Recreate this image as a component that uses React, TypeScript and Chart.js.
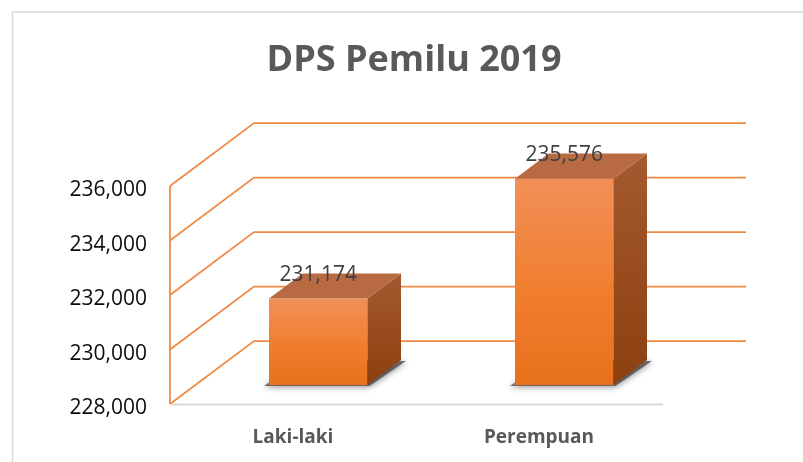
import React, { useEffect, useRef } from "react";
import { Chart, registerables } from "chart.js";

Chart.register(...registerables);

const categories: string[] = ["Laki-laki", "Perempuan"];
const values: number[] = [231174, 235576];
const yMin = 228000;
const yMax = 236000;
const yStep = 2000;
const titleText = "DPS Pemilu 2019";

const DX = 84;
const DY = -63;
const FONT = "'Open Sans', 'Liberation Sans', sans-serif";

const fmt = (v: number) => v.toLocaleString("en-US");

const threeD = {
  id: "threeD",
  beforeDraw(chart: any) {
    const ctx = chart.ctx;
    ctx.save();
    ctx.fillStyle = "#ffffff";
    ctx.fillRect(0, 0, chart.width, chart.height);
    ctx.strokeStyle = "#d9d9d9";
    ctx.lineWidth = 1.5;
    ctx.strokeRect(12.5, 12, chart.width + 20, chart.height + 20);
    // title
    ctx.fillStyle = "#595959";
    ctx.font = `bold 36px ${FONT}`;
    ctx.textAlign = "center";
    ctx.textBaseline = "alphabetic";
    ctx.fillText(titleText, 414, 71);
    ctx.restore();
  },
  beforeDatasetsDraw(chart: any) {
    const ctx = chart.ctx;
    const ys = chart.scales.y;
    const { left, right, bottom } = chart.chartArea;
    ctx.save();
    ctx.strokeStyle = "#ef8a45";
    ctx.lineWidth = 1.75;
    ys.ticks.forEach((t: any) => {
      const y = ys.getPixelForValue(t.value);
      ctx.beginPath();
      ctx.moveTo(left, y);
      ctx.lineTo(left + DX, y + DY);
      ctx.lineTo(right + DX, y + DY);
      ctx.stroke();
    });
    ctx.beginPath();
    ctx.moveTo(left, ys.getPixelForValue(yMax));
    ctx.lineTo(left, ys.getPixelForValue(yMin));
    ctx.stroke();
    // floor line
    ctx.strokeStyle = "#d9d9d9";
    ctx.lineWidth = 2;
    ctx.beginPath();
    ctx.moveTo(left + 1, bottom + 0.5);
    ctx.lineTo(right + 1, bottom + 0.5);
    ctx.stroke();
    // y tick labels
    ctx.fillStyle = "#0d0d0d";
    ctx.font = `21px ${FONT}`;
    ctx.textAlign = "right";
    ctx.textBaseline = "alphabetic";
    ys.ticks.forEach((t: any) => {
      const y = ys.getPixelForValue(t.value);
      ctx.fillText(fmt(t.value), left - 23, y + 10);
    });
    ctx.restore();
  },
  afterDatasetsDraw(chart: any) {
    const ctx = chart.ctx;
    const ys = chart.scales.y;
    const meta = chart.getDatasetMeta(0);
    const ox = DX * 0.3;
    const oy = DY * 0.3;
    const ddx = DX * 0.4;
    const ddy = DY * 0.4;
    const basePx = ys.getPixelForValue(yMin);
    meta.data.forEach((bar: any, i: number) => {
      const x0 = bar.x - bar.width / 2 + ox;
      const x1 = bar.x + bar.width / 2 + ox;
      const yT = ys.getPixelForValue(values[i]) + oy;
      const yB = basePx + oy;
      ctx.save();
      // shadow
      ctx.save();
      ctx.shadowColor = "rgba(0,0,0,0.6)";
      ctx.shadowBlur = 6;
      ctx.shadowOffsetY = 1;
      ctx.fillStyle = "rgba(70,70,70,0.75)";
      ctx.beginPath();
      ctx.moveTo(x0 - 5, yB + 1);
      ctx.lineTo(x1 + 2, yB + 1);
      ctx.lineTo(x1 + ddx + 5, yB + ddy + 1);
      ctx.lineTo(x0 + ddx, yB + ddy);
      ctx.closePath();
      ctx.fill();
      ctx.restore();
      // front
      const gf = ctx.createLinearGradient(0, yT, 0, yB);
      gf.addColorStop(0, "#f28f58");
      gf.addColorStop(0.6, "#f07c2a");
      gf.addColorStop(1, "#e8711d");
      ctx.fillStyle = gf;
      ctx.fillRect(x0, yT, x1 - x0, yB - yT);
      // side
      const gs = ctx.createLinearGradient(0, yT + ddy, 0, yB);
      gs.addColorStop(0, "#a45a30");
      gs.addColorStop(1, "#8d400e");
      ctx.fillStyle = gs;
      ctx.beginPath();
      ctx.moveTo(x1, yT);
      ctx.lineTo(x1 + ddx, yT + ddy);
      ctx.lineTo(x1 + ddx, yB + ddy);
      ctx.lineTo(x1, yB);
      ctx.closePath();
      ctx.fill();
      // top
      ctx.fillStyle = "#b86b42";
      ctx.beginPath();
      ctx.moveTo(x0, yT);
      ctx.lineTo(x1, yT);
      ctx.lineTo(x1 + ddx, yT + ddy);
      ctx.lineTo(x0 + ddx, yT + ddy);
      ctx.closePath();
      ctx.fill();
      // label
      ctx.fillStyle = "#404040";
      ctx.font = `21px ${FONT}`;
      ctx.textAlign = "center";
      ctx.textBaseline = "middle";
      ctx.fillText(fmt(values[i]), (x0 + x1) / 2, yT + ddy + 2);
      ctx.restore();
    });
  },
};

export default function App() {
  const ref = useRef<HTMLCanvasElement | null>(null);
  useEffect(() => {
    if (!ref.current) return;
    const chart = new Chart(ref.current, {
      type: "bar",
      data: {
        labels: categories,
        datasets: [
          {
            data: values,
            backgroundColor: "rgba(0,0,0,0)",
            borderWidth: 0,
            barPercentage: 0.5,
            categoryPercentage: 0.8,
          },
        ],
      },
      options: {
        responsive: false,
        animation: false,
        layout: { padding: { top: 186, right: 141, left: 0, bottom: 0 } },
        plugins: {
          legend: { display: false },
          title: { display: false },
          tooltip: { enabled: false },
        },
        scales: {
          x: {
            grid: { display: false, drawTicks: false },
            border: { display: false },
            ticks: {
              padding: 22,
              color: "#595959",
              font: { family: FONT, size: 19, weight: "bold" },
            },
            afterFit: (s: any) => {
              s.height = 58;
            },
          },
          y: {
            min: yMin,
            max: yMax,
            grid: { display: false, drawTicks: false },
            border: { display: false },
            ticks: {
              stepSize: yStep,
              padding: 23,
              color: "rgba(0,0,0,0)",
              font: { family: FONT, size: 21 },
              callback: (v: any) => fmt(Number(v)),
            },
            afterFit: (s: any) => {
              s.width = 170;
            },
          },
        },
      },
      plugins: [threeD],
    });
    return () => chart.destroy();
  }, []);
  return (
    <canvas
      ref={ref}
      width={803}
      height={462}
      style={{ position: "fixed", left: 0, top: 0, display: "block" }}
    />
  );
}
